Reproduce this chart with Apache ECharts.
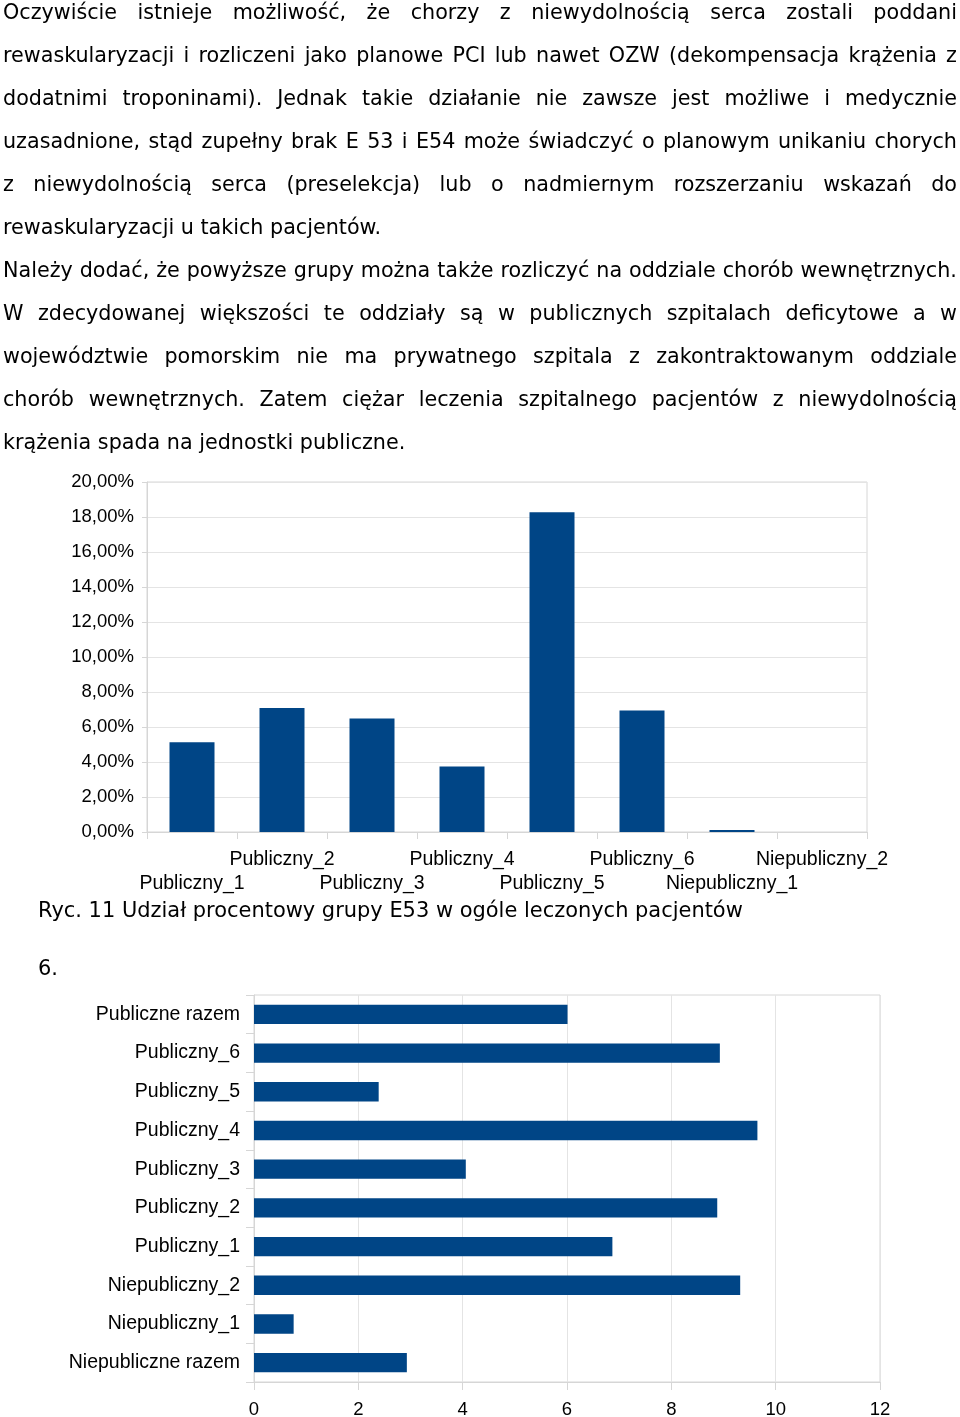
<!DOCTYPE html>
<html><head><meta charset="utf-8">
<script src="https://cdn.jsdelivr.net/npm/echarts@6/dist/echarts.min.js"></script>
<style>
html,body{margin:0;padding:0;background:#fff;}
body{width:960px;height:1417px;position:relative;overflow:hidden;}
#chart{position:absolute;left:0;top:0;width:960px;height:1417px;}
.line{position:absolute;left:3px;width:954px;height:43px;line-height:43px;font-family:"DejaVu Sans";font-size:20.7px;color:#000;white-space:nowrap;}
.j{display:flex;justify-content:space-between;}
</style>
</head><body>
<div id="chart"></div>
<div id="text"></div>
<script>
// ---- data ----
const barCategories = ['Publiczny_1','Publiczny_2','Publiczny_3','Publiczny_4','Publiczny_5','Publiczny_6','Niepubliczny_1','Niepubliczny_2'];
const barValues = [5.13, 7.09, 6.48, 3.75, 18.27, 6.95, 0.12, 0];
const hbarCategories = ['Niepubliczne razem','Niepubliczny_1','Niepubliczny_2','Publiczny_1','Publiczny_2','Publiczny_3','Publiczny_4','Publiczny_5','Publiczny_6','Publiczne razem'];
const hbarValues = [2.93, 0.76, 9.32, 6.87, 8.88, 4.06, 9.65, 2.39, 8.93, 6.01];
const caption1 = 'Ryc. 11 Udział procentowy grupy E53 w ogóle leczonych pacjentów';
const sectionNo = '6.';
const bodyLines = [
 ['Oczywiście istnieje możliwość, że chorzy z niewydolnością serca zostali poddani', true],
 ['rewaskularyzacji i rozliczeni jako planowe PCI lub nawet OZW (dekompensacja krążenia z', true],
 ['dodatnimi troponinami). Jednak takie działanie nie zawsze jest możliwe i medycznie', true],
 ['uzasadnione, stąd zupełny brak E 53 i E54 może świadczyć o planowym unikaniu chorych', true],
 ['z niewydolnością serca (preselekcja) lub o nadmiernym rozszerzaniu wskazań do', true],
 ['rewaskularyzacji u takich pacjentów.', false],
 ['Należy dodać, że powyższe grupy można także rozliczyć na oddziale chorób wewnętrznych.', true],
 ['W zdecydowanej większości te oddziały są w publicznych szpitalach deficytowe a w', true],
 ['województwie pomorskim nie ma prywatnego szpitala z zakontraktowanym oddziale', true],
 ['chorób wewnętrznych. Zatem ciężar leczenia szpitalnego pacjentów z niewydolnością', true],
 ['krążenia spada na jednostki publiczne.', false]
];

// ---- text ----
const tc = document.getElementById('text');
bodyLines.forEach((l, i) => {
  const d = document.createElement('div');
  d.className = 'line' + (l[1] ? ' j' : '');
  d.style.top = (-9.5 + 43 * i) + 'px';
  if (l[1]) {
    l[0].split(' ').forEach(w => { const s = document.createElement('span'); s.textContent = w; d.appendChild(s); });
  } else d.textContent = l[0];
  tc.appendChild(d);
});
function addText(txt, x, cy, fs) {
  const d = document.createElement('div');
  d.className = 'line';
  d.style.left = x + 'px';
  d.style.top = (cy - 21.5) + 'px';
  d.style.width = 'auto';
  d.style.fontSize = fs + 'px';
  d.textContent = txt;
  tc.appendChild(d);
}
addText(caption1, 38, 910, 20.95);
addText(sectionNo, 38, 968, 20.95);

// ---- chart ----
const grey = '#d6d6d6';
const numFont = {fontFamily: 'Liberation Sans', fontSize: 18.5, color: '#000'};
const catFont = {fontFamily: 'Liberation Sans', fontSize: 19.5, color: '#000'};
const chart = echarts.init(document.getElementById('chart'), null, {renderer: 'canvas'});
chart.setOption({
  animation: false,
  grid: [
    {left: 147, top: 482, width: 720, height: 350, show: true, borderColor: grey, borderWidth: 1, containLabel: false, outerBoundsMode: 'none'},
    {left: 254, top: 995, width: 626, height: 387, show: true, borderColor: grey, borderWidth: 1, containLabel: false, outerBoundsMode: 'none'}
  ],
  xAxis: [
    {gridIndex: 0, type: 'category', data: barCategories, boundaryGap: true,
     axisLine: {lineStyle: {color: grey}},
     axisTick: {show: true, length: 7, lineStyle: {color: grey}},
     axisLabel: Object.assign({interval: 0, margin: 16, lineHeight: 24, hideOverlap: false,
       formatter: (v, i) => (i % 2 === 0 ? '\n' + v : v)}, catFont)},
    {gridIndex: 1, type: 'value', min: 0, max: 12, interval: 2,
     axisLine: {show: true, lineStyle: {color: grey}},
     axisTick: {show: true, length: 8, lineStyle: {color: grey}},
     splitLine: {show: true, lineStyle: {color: '#e4e4e4'}},
     axisLabel: Object.assign({margin: 18}, numFont)}
  ],
  yAxis: [
    {gridIndex: 0, type: 'value', min: 0, max: 20, interval: 2,
     axisLine: {show: true, lineStyle: {color: grey}},
     axisTick: {show: true, length: 5, lineStyle: {color: grey}},
     splitLine: {show: true, lineStyle: {color: '#e4e4e4'}},
     axisLabel: Object.assign({margin: 13, formatter: v => v.toFixed(2).replace('.', ',') + '%'}, numFont)},
    {gridIndex: 1, type: 'category', data: hbarCategories, boundaryGap: true,
     axisLine: {show: true, lineStyle: {color: grey}},
     axisTick: {show: true, length: 8, lineStyle: {color: grey}},
     axisLabel: Object.assign({interval: 0, margin: 14, padding: [5, 0, 0, 0]}, catFont)}
  ],
  series: [
    {type: 'bar', xAxisIndex: 0, yAxisIndex: 0, data: barValues, barWidth: '50%', itemStyle: {color: '#004586'}},
    {type: 'bar', xAxisIndex: 1, yAxisIndex: 1, data: hbarValues, barWidth: '50%', itemStyle: {color: '#004586'}}
  ]
});
</script>
</body></html>
